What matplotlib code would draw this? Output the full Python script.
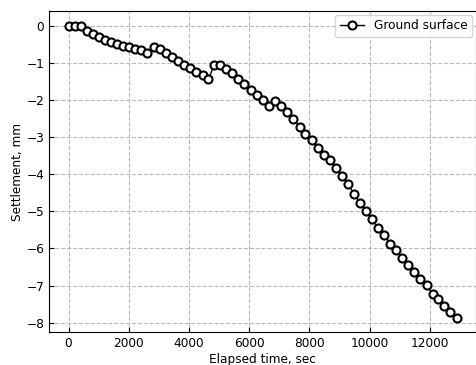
import matplotlib
matplotlib.use("Agg")
import matplotlib.pyplot as plt

# elapsed time (sec) and settlement (mm)
time_sec = [0, 220, 420, 625, 820, 1020, 1216, 1414, 1611, 1808, 2005, 2200,
            2400, 2608, 2827, 3035, 3233, 3430, 3638, 3836, 4033, 4241, 4449,
            4647, 4844, 5041, 5238, 5436, 5644, 5841, 6049, 6247, 6444, 6652,
            6860, 7058, 7255, 7463, 7671, 7868, 8077, 8274, 8482, 8679, 8877,
            9085, 9282, 9479, 9688, 9885, 10082, 10279, 10477, 10685, 10882,
            11079, 11288, 11485, 11682, 11890, 12088, 12285, 12482, 12679, 12888]
settlement = [0.0, 0.0, -0.02, -0.15, -0.22, -0.30, -0.38, -0.44, -0.49, -0.54,
              -0.57, -0.63, -0.67, -0.75, -0.57, -0.63, -0.74, -0.84, -0.96,
              -1.05, -1.14, -1.26, -1.34, -1.44, -1.05, -1.07, -1.18, -1.29,
              -1.44, -1.57, -1.73, -1.87, -2.00, -2.16, -2.03, -2.17, -2.33,
              -2.52, -2.72, -2.91, -3.09, -3.29, -3.49, -3.63, -3.83, -4.06,
              -4.27, -4.53, -4.79, -4.98, -5.22, -5.46, -5.64, -5.87, -6.05,
              -6.25, -6.45, -6.63, -6.82, -6.98, -7.22, -7.37, -7.55, -7.72,
              -7.86]

fig, ax = plt.subplots(figsize=(4.77, 3.65), dpi=100)
fig.subplots_adjust(left=0.103, right=0.998, top=0.97, bottom=0.09)

ax.plot(time_sec, settlement, color='black', linewidth=1.0, marker='o',
        markersize=5.8, markerfacecolor='white', markeredgecolor='black',
        markeredgewidth=1.5, label='Ground surface')

ax.set_xlabel('Elapsed time, sec', fontsize=8.7, labelpad=2)
ax.set_ylabel('Settlement, mm', fontsize=8.7, labelpad=2)
ax.tick_params(direction='in', labelsize=8.7)
ax.set_xticks([0, 2000, 4000, 6000, 8000, 10000, 12000])
ax.grid(True, linestyle='--', color='#b8b8b8', linewidth=0.8)
ax.legend(loc='upper right', fontsize=8.7, borderaxespad=0.3)

fig.savefig('out.png')
